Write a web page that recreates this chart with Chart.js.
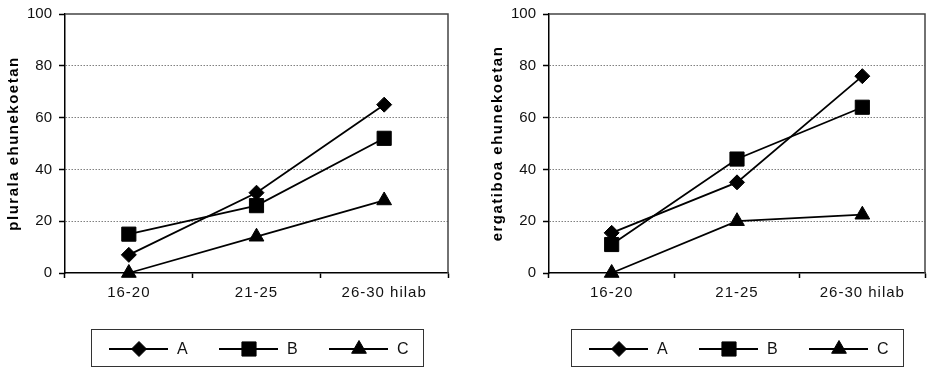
<!DOCTYPE html>
<html>
<head>
<meta charset="utf-8">
<script src="https://cdn.jsdelivr.net/npm/chart.js@4.4.0/dist/chart.umd.min.js"></script>
<style>
  html, body { margin: 0; padding: 0; background: #fff; }
  body { width: 936px; height: 367px; position: relative; overflow: hidden; }
  .box { position: absolute; top: 0; height: 367px; }
</style>
</head>
<body>
<div class="box" style="left:0;width:466px"><canvas id="c1"></canvas></div>
<div class="box" style="left:484px;width:452px"><canvas id="c2"></canvas></div>
<script>
const categories = ['16-20', '21-25', '26-30 hilab'];
const seriesNames = ['A', 'B', 'C'];
const pluralA = [7, 31, 65];
const pluralB = [15, 26, 52];
const pluralC = [0, 14, 28];
const ergA = [15.5, 35, 76];
const ergB = [11, 44, 64];
const ergC = [0, 20, 22.5];
const yTicks = [0, 20, 40, 60, 80, 100];
const yTitleLeft = 'plurala ehunekoetan';
const yTitleRight = 'ergatiboa ehunekoetan';

const FONT = '"Liberation Sans", Arial, Helvetica, sans-serif';
Chart.defaults.font.family = FONT;
Chart.defaults.font.size = 15;
Chart.defaults.color = '#111';

// letter spacing support for axis titles / tick labels
if (Chart.Scale && Chart.Scale.prototype) {
  const P = Chart.Scale.prototype;
  const origTitle = P.drawTitle;
  P.drawTitle = function (...args) {
    const c = this.ctx;
    c.save();
    const sp = this.options.title && this.options.title.spacingPx;
    if (sp) c.letterSpacing = sp + 'px';
    origTitle.apply(this, args);
    c.restore();
  };
  const origLabels = P.drawLabels;
  P.drawLabels = function (...args) {
    const c = this.ctx;
    c.save();
    const sp = this.options.ticks && this.options.ticks.spacingPx;
    if (sp) c.letterSpacing = sp + 'px';
    origLabels.apply(this, args);
    c.restore();
  };
}

const styles = [
  { pointStyle: 'rectRot', radius: 7.5 },
  { pointStyle: 'rect', radius: 10 },
  { pointStyle: 'triangle', radius: 8.5 }
];

function drawMarker(ctx, style, x, y) {
  ctx.save();
  ctx.fillStyle = '#000';
  ctx.strokeStyle = '#000';
  ctx.lineWidth = 1;
  ctx.beginPath();
  const r = style.radius;
  if (style.pointStyle === 'rectRot') {
    ctx.moveTo(x, y - r); ctx.lineTo(x + r, y); ctx.lineTo(x, y + r); ctx.lineTo(x - r, y);
  } else if (style.pointStyle === 'rect') {
    const s = Math.SQRT1_2 * r;
    ctx.rect(x - s, y - s, 2 * s, 2 * s);
  } else {
    ctx.moveTo(x, y - r);
    ctx.lineTo(x + Math.sin(2 * Math.PI / 3) * r, y - Math.cos(2 * Math.PI / 3) * r);
    ctx.lineTo(x + Math.sin(4 * Math.PI / 3) * r, y - Math.cos(4 * Math.PI / 3) * r);
  }
  ctx.closePath();
  ctx.fill();
  ctx.stroke();
  ctx.restore();
}

const framePlugin = {
  id: 'frame',
  beforeDatasetsDraw(chart) {
    const { ctx, chartArea: a } = chart;
    ctx.save();
    ctx.strokeStyle = '#444';
    ctx.lineWidth = 1.5;
    ctx.beginPath();
    ctx.moveTo(a.left, a.top);
    ctx.lineTo(a.right, a.top);
    ctx.lineTo(a.right, a.bottom);
    ctx.stroke();
    ctx.restore();
  }
};

const boxLegendPlugin = {
  id: 'boxLegend',
  afterDraw(chart) {
    const { ctx, chartArea: a } = chart;
    const w = 332, top = 329, h = 37;
    const left = Math.round((a.left + a.right) / 2 - w / 2);
    ctx.save();
    ctx.strokeStyle = '#333';
    ctx.lineWidth = 1;
    ctx.strokeRect(left + 0.5, top + 0.5, w, h);
    const cy = 349;
    chart.data.datasets.forEach((ds, i) => {
      const x0 = left + 18 + i * 110;
      ctx.strokeStyle = '#000';
      ctx.lineWidth = 1.8;
      ctx.beginPath();
      ctx.moveTo(x0, cy);
      ctx.lineTo(x0 + 59, cy);
      ctx.stroke();
      drawMarker(ctx, styles[i], x0 + 30, cy);
      ctx.fillStyle = '#111';
      ctx.font = '16px ' + FONT;
      ctx.textBaseline = 'middle';
      ctx.textAlign = 'left';
      ctx.fillText(ds.label, x0 + 68, cy + 1);
    });
    ctx.restore();
  }
};

function makeChart(id, series, title, padRight) {
  const datasets = series.map((vals, i) => ({
    label: seriesNames[i],
    data: vals,
    borderColor: '#000',
    backgroundColor: '#000',
    borderWidth: 1.8,
    pointStyle: styles[i].pointStyle,
    pointRadius: styles[i].radius,
    pointHoverRadius: styles[i].radius,
    pointBackgroundColor: '#000',
    pointBorderColor: '#000',
    pointBorderWidth: 1,
    tension: 0,
    clip: false
  }));
  return new Chart(document.getElementById(id), {
    type: 'line',
    data: { labels: categories, datasets },
    options: {
      responsive: true,
      maintainAspectRatio: false,
      animation: false,
      events: [],
      layout: { padding: { top: 14, right: padRight, bottom: 64, left: 0 } },
      plugins: { legend: { display: false }, tooltip: { enabled: false } },
      scales: {
        x: {
          offset: true,
          grid: {
            offset: true,
            drawOnChartArea: false,
            drawTicks: true,
            tickLength: 5,
            tickColor: '#000',
            tickWidth: 1.5
          },
          border: { color: '#000', width: 1.5 },
          ticks: { padding: 6, color: '#111', font: { size: 15 }, maxRotation: 0, autoSkip: false, spacingPx: 1 },
          afterFit(s) { s.height = 30; }
        },
        y: {
          min: 0,
          max: 100,
          afterBuildTicks(s) { s.ticks = yTicks.map(v => ({ value: v })); },
          grid: {
            color: (c) => (c.tick && (c.tick.value === 0 || c.tick.value === 100)) ? 'rgba(0,0,0,0)' : '#808080',
            lineWidth: 1,
            drawTicks: true,
            tickLength: 6,
            tickColor: '#000',
            tickWidth: 1.5
          },
          border: { color: '#000', width: 1.5, dash: [1.5, 1.5] },
          ticks: { padding: 7, color: '#111', font: { size: 15, lineHeight: 0.9 } },
          title: {
            display: true,
            text: title,
            color: '#000',
            font: { size: 15, weight: 'bold' },
            padding: { top: 5, bottom: 0 },
            spacingPx: 1.5
          },
          afterFit(s) { s.width = 65; }
        }
      }
    },
    plugins: [framePlugin, boxLegendPlugin]
  });
}

makeChart('c1', [pluralA, pluralB, pluralC], yTitleLeft, 18);
makeChart('c2', [ergA, ergB, ergC], yTitleRight, 3);
</script>
</body>
</html>
